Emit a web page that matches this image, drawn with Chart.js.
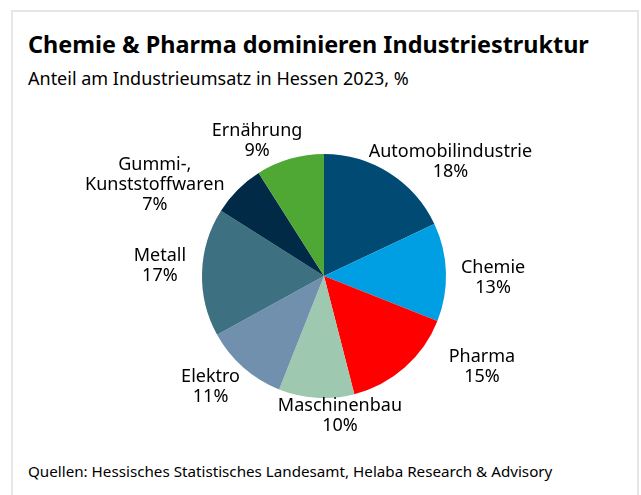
<!DOCTYPE html>
<html>
<head>
<meta charset="utf-8">
<script src="https://cdn.jsdelivr.net/npm/chart.js@4"></script>
<style>
    body { margin: 0; background: #fff; font-family: "Noto Sans", sans-serif; }
    #wrap { position: relative; width: 641px; height: 495px; overflow: hidden; }
    #frame { position: absolute; left: 11px; top: 10px; width: 624px; height: 500px; border: 2px solid #e6e6e6; }
    #title { position: absolute; left: 28px; top: 28px; font-size: 23.4px; font-weight: bold; color: #000; white-space: nowrap; }
    #subtitle { position: absolute; left: 28px; top: 66px; font-size: 18px; color: #000; white-space: nowrap; }
    #source { position: absolute; left: 28px; top: 461px; font-size: 15.2px; color: #000; white-space: nowrap; }
    canvas { position: absolute; left: 0; top: 0; }
</style>
</head>
<body>
<div id="wrap">
    <div id="frame"></div>
    <div id="title">Chemie &amp; Pharma dominieren Industriestruktur</div>
    <div id="subtitle">Anteil am Industrieumsatz in Hessen 2023, %</div>
    <div id="source">Quellen: Hessisches Statistisches Landesamt, Helaba Research &amp; Advisory</div>
    <canvas id="pieChart" width="641" height="495"></canvas>
</div>
<script>
const categories = ['Automobilindustrie', 'Chemie', 'Pharma', 'Maschinenbau', 'Elektro', 'Metall', 'Gummi-,\nKunststoffwaren', 'Ernährung'];
const shares = [18, 13, 15, 10, 11, 17, 7, 9];
const colors = ['#004a73', '#009fe3', '#ff0000', '#9fc8b0', '#7190ae', '#3d7080', '#002a45', '#4fa734'];

// small hand nudges for the outside labels (px), like the original layout
const labelShift = [[13, 13], [7, 7], [50, -22], [28, -10], [-8, -2], [-8, -5], [-28, 22], [-18, 9]];

// labels outside the slices, no leader lines
const outsideLabels = {
    id: 'outsideLabels',
    afterDatasetsDraw(chart) {
        const ctx = chart.ctx;
        const meta = chart.getDatasetMeta(0);
        const lineH = 20;
        ctx.save();
        ctx.font = '18px "Noto Sans"';
        ctx.fillStyle = '#000';
        ctx.textAlign = 'center';
        ctx.textBaseline = 'middle';
        meta.data.forEach((arc, i) => {
            const p = arc.getProps(['x', 'y', 'startAngle', 'endAngle', 'outerRadius'], true);
            const a = (p.startAngle + p.endAngle) / 2;
            const lines = categories[i].split('\n').concat([shares[i] + '%']);
            const w = Math.max(...lines.map(l => ctx.measureText(l).width));
            const h = lines.length * lineH;
            const r = p.outerRadius + 8;
            const cx = p.x + Math.cos(a) * (r + w / 2) + labelShift[i][0];
            const cy = p.y + Math.sin(a) * (r + h / 2) + labelShift[i][1];
            lines.forEach((l, k) => {
                ctx.fillText(l, cx, cy - h / 2 + lineH / 2 + k * lineH);
            });
        });
        ctx.restore();
    }
};

const pieChart = new Chart(document.getElementById('pieChart').getContext('2d'), {
    type: 'pie',
    data: {
        labels: categories,
        datasets: [{
            data: shares,
            backgroundColor: colors,
            borderWidth: 0
        }]
    },
    options: {
        responsive: false,
        animation: false,
        layout: { padding: { top: 154, bottom: 97, left: 202, right: 195 } },
        plugins: {
            legend: { display: false },
            tooltip: { enabled: false }
        }
    },
    plugins: [outsideLabels]
});
</script>
</body>
</html>
